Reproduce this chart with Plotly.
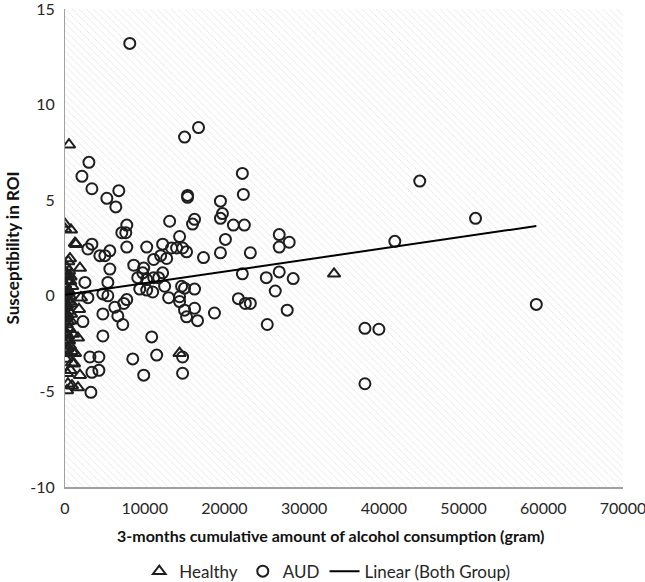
import plotly.graph_objects as go

# ---- data ----
healthy_x = [500, 0, 0, 750, 1250, 1375, 625, 1875, 400, 200, 500, 100, 700, 300, 0, 900,
             400, 150, 600, 2000, 250, 800, 100, 1750, 500, 300, 0, 700, 200, 450, 100,
             1000, 1625, 300, 0, 600, 150, 125, 1250, 875, 1125, 250, 1875, 375, 1625,
             875, 250, 33750, 14375,
             50, 350, 650, 150, 450, 50, 550, 250, 750, 50, 400, 200, 600, 350, 50, 500,
             300, 850, 100, 700]
healthy_y = [7.9, 3.75, 3.5, 3.45, 2.75, 2.7, 1.95, 1.45, 1.8, 1.5, 1.3, 1.1, 1.0, 0.8, 0.6, 0.5,
             0.3, 0.1, 0.0, -0.1, -0.2, -0.4, -0.6, -0.7, -0.8, -1.0, -1.2, -1.3, -1.5, -1.7, -1.9,
             -2.0, -2.2, -2.3, -2.5, -2.6, -2.8, -3.0, -3.0, -3.5, -3.55, -4.05, -4.15, -4.6, -4.8,
             -4.7, -4.95, 1.15, -3.0,
             1.25, 1.05, 0.75, 0.4, 0.2, -0.05, -0.3, -0.5, -0.95, -0.9, -1.35, -1.1, -1.75,
             -2.1, -2.0, -2.35, -2.75, -2.9, -3.3, -3.9]

aud_x = [8125, 15000, 16750, 3000, 2125, 3375, 6750, 5250, 15375, 15375,
         22250, 22375, 44500, 19500, 19750, 19500, 21125, 22500, 20125, 19500,
         17375, 23250, 26875, 28125, 26875, 41375, 51500, 22250, 25250, 26875,
         28625, 26375, 21750, 22625, 23250, 18750, 27875, 25375, 37625, 39375,
         37625, 59125, 6375, 7750, 7125, 7625, 13125, 16250, 16000, 14375,
         3375, 2875, 4375, 5000, 5625, 7750, 10250, 12250, 11125, 12000,
         12750, 13375, 14000, 14750, 15250, 8625, 5625, 9875, 12250, 9750,
         9125, 11125, 11750, 10250, 2500, 5375, 12500, 14625, 15000, 16250,
         9375, 10250, 11000, 2875, 4750, 5375, 13000, 14375, 14375, 7750,
         7375, 6250, 15000, 16250, 4750, 6625, 15250, 2250, 7250, 16625,
         4750, 10875, 3125, 4250, 8500, 11500, 14750, 3375, 4250, 9875,
         14750, 3250]
aud_y = [13.2, 8.3, 8.8, 6.98, 6.25, 5.6, 5.5, 5.1, 5.25, 5.15,
         6.4, 5.3, 6.0, 4.95, 4.3, 4.05, 3.7, 3.7, 2.95, 2.25,
         2.0, 2.25, 3.2, 2.8, 2.55, 2.85, 4.05, 1.15, 0.95, 1.25,
         0.9, 0.25, -0.15, -0.4, -0.4, -0.9, -0.75, -1.5, -1.7, -1.75,
         -4.6, -0.45, 4.65, 3.7, 3.3, 3.3, 3.9, 4.0, 3.75, 3.1,
         2.7, 2.45, 2.1, 2.1, 2.35, 2.55, 2.55, 2.7, 1.9, 2.1,
         1.95, 2.5, 2.5, 2.5, 2.3, 1.6, 1.4, 1.45, 1.2, 1.2,
         0.95, 0.95, 0.95, 0.85, 0.7, 0.7, 0.5, 0.5, 0.4, 0.35,
         0.35, 0.3, 0.2, -0.1, 0.1, 0.0, -0.1, -0.05, -0.3, -0.2,
         -0.4, -0.6, -0.75, -0.65, -0.95, -1.05, -1.1, -1.35, -1.5, -1.3,
         -2.1, -2.15, -3.2, -3.2, -3.3, -3.1, -3.2, -4.0, -3.9, -4.15,
         -4.05, -5.05]

# trend line (Linear, Both Group): values at the data's min and max x
trend_y_ends = [0.05, 3.65]

x_ticks = [0, 10000, 20000, 30000, 40000, 50000, 60000, 70000]
x_tick_text = ["0", "10000", "20000", "30000", "40000", "50000", "60000", "70000"]
y_ticks = [-10, -5, 0, 5, 10, 15]
y_tick_text = ["-10", "-5", "0", "5", "10", "15"]

x_range = [0, 70000]
y_range = [-10, 15]

all_x = healthy_x + aud_x
trend_x = [min(all_x), max(all_x)]

FONT = "Lato"
INK = "#1e1e1e"
TXT = "#262626"

fig = go.Figure()

# hatched plot-area background
fig.add_trace(go.Scatter(
    x=[x_range[0], x_range[1], x_range[1], x_range[0], x_range[0]],
    y=[y_range[0], y_range[0], y_range[1], y_range[1], y_range[0]],
    mode="none", fill="toself", fillcolor="white",
    fillpattern=dict(shape="\\", fgcolor="#c8c8c8", bgcolor="white", size=5, solidity=0.16),
    hoverinfo="skip", showlegend=False,
))

fig.add_trace(go.Scatter(
    x=healthy_x, y=healthy_y, mode="markers", name="Healthy",
    marker=dict(symbol="triangle-up-open", size=11, color=INK, line=dict(width=2, color=INK)),
))
fig.add_trace(go.Scatter(
    x=aud_x, y=aud_y, mode="markers", name="AUD",
    marker=dict(symbol="circle-open", size=11, color=INK, line=dict(width=2, color=INK)),
))
fig.add_trace(go.Scatter(
    x=trend_x, y=trend_y_ends, mode="lines", name="Linear (Both Group)",
    line=dict(color="black", width=2),
))

fig.update_layout(
    width=645, height=582,
    margin=dict(l=65, r=22, t=9, b=95, autoexpand=False),
    paper_bgcolor="white", plot_bgcolor="white",
    font=dict(family=FONT, size=16, color=TXT),
    showlegend=True,
    legend=dict(orientation="h", x=0.47, xanchor="center", y=-0.177, yanchor="middle",
                font=dict(size=17, family=FONT, color=TXT), itemwidth=30,
                bgcolor="rgba(0,0,0,0)"),
    annotations=[dict(
        text="<b>3-months cumulative amount of alcohol consumption (gram)</b>",
        xref="paper", yref="paper", x=0.475, y=-0.102, xanchor="center", yanchor="middle",
        showarrow=False, font=dict(size=16, family=FONT, color="#111111"),
    )],
)
fig.update_xaxes(
    range=x_range, tickvals=x_ticks, ticktext=x_tick_text, ticks="", showgrid=False,
    zeroline=False, showline=True, linecolor="#a0a0a0", linewidth=2,
    tickfont=dict(size=16, family=FONT, color=TXT), ticklabelstandoff=6,
    ticklabeloverflow="allow",
)
fig.update_yaxes(
    range=y_range, tickvals=y_ticks, ticktext=y_tick_text, ticks="", showgrid=False,
    zeroline=False, showline=True, linecolor="#a0a0a0", linewidth=1,
    tickfont=dict(size=16, family=FONT, color=TXT), ticklabelstandoff=6,
    ticklabeloverflow="allow",
    title=dict(text="<b>Susceptibility in ROI</b>",
               font=dict(size=17, family=FONT, color="#111111"), standoff=6),
)

fig.write_html("out.html", config={"displayModeBar": False},
               post_script="document.body.style.margin='0';")
